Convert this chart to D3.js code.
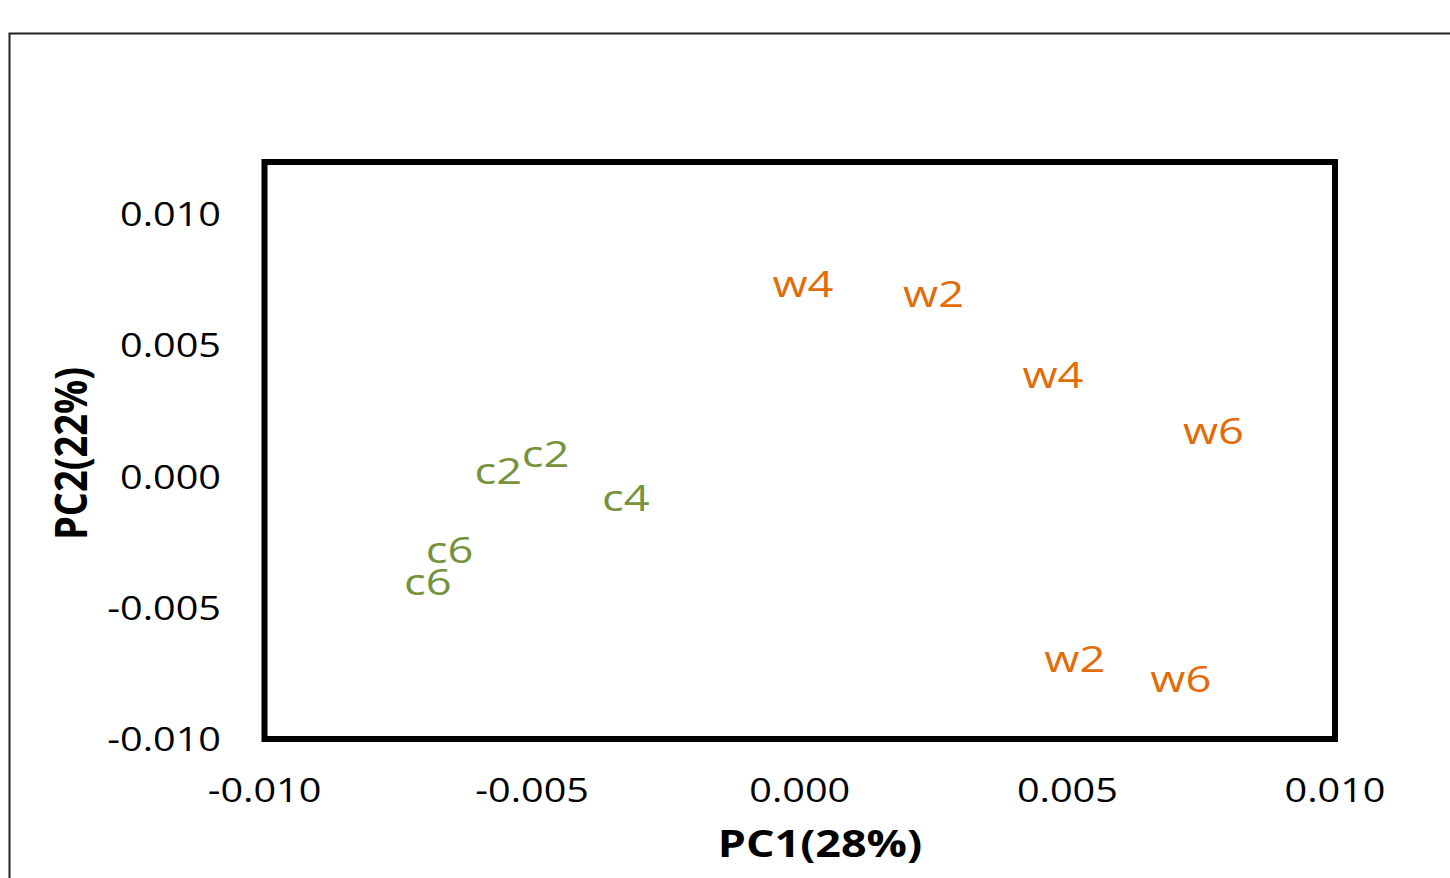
<!DOCTYPE html>
<html>
<head>
<meta charset="utf-8">
<script src="https://cdn.jsdelivr.net/npm/d3@7"></script>
<style>
  html, body { margin: 0; padding: 0; background: #fff; }
  svg { display: block; }
  text { font-family: "Open Sans", sans-serif; }
</style>
</head>
<body>
<svg id="chart" width="1450" height="878"></svg>
<script>
// ---- data ----
const labels = ["w4", "w2", "w4", "w6", "c2", "c2", "c4", "c6", "c6", "w2", "w6"];
const groups = ["w", "w", "w", "w", "c", "c", "c", "c", "c", "w", "w"];
const pc1 = [0.00006, 0.0025, 0.00473, 0.00773, -0.00563, -0.00475, -0.00325, -0.00654, -0.00695, 0.00514, 0.00712];
const pc2 = [0.00734, 0.00697, 0.00388, 0.00174, 0.0002, 0.00087, -0.00081, -0.0028, -0.00402, -0.00695, -0.00772];
const xTicks = [-0.010, -0.005, 0.000, 0.005, 0.010];
const yTicks = [-0.010, -0.005, 0.000, 0.005, 0.010];
const xTitle = "PC1(28%)";
const yTitle = "PC2(22%)";
const groupColors = { w: "#E36C0A", c: "#76923C" };

// ---- layout ----
const svg = d3.select("#chart");
const pL = 264.5, pR = 1335, pT = 162, pB = 739;
const sxTick = 1.2, sxLab = 1.26, sxTitle = 1.18;

const x = d3.scaleLinear().domain([-0.010, 0.010]).range([pL, pR]);
const y = d3.scaleLinear().domain([-0.010, 0.012]).range([pB, pT]);
const fmt = d => d3.format(".3f")(d).replace("\u2212", "-");

// outer chart border
svg.append("rect")
  .attr("x", 9.5).attr("y", 33.5)
  .attr("width", 1460).attr("height", 900)
  .attr("fill", "none").attr("stroke", "#222").attr("stroke-width", 2);

function stretchedText(px, py, str, anchor, s) {
  return svg.append("text")
    .attr("transform", `translate(${px},${py}) scale(${s},1)`)
    .attr("text-anchor", anchor)
    .text(str);
}

// axes via d3 (no tick lines/domains visible)
const xAxis = svg.append("g").attr("transform", `translate(0,${pB})`)
  .call(d3.axisBottom(x).tickValues(xTicks).tickFormat(fmt).tickSize(0));
xAxis.select(".domain").remove();
xAxis.selectAll(".tick text").remove();
xAxis.selectAll(".tick").each(function(d) {
  stretchedText(x(d), 802, fmt(d), "middle", sxTick)
    .attr("font-size", 33).attr("fill", "#000");
});

const yAxis = svg.append("g").attr("transform", `translate(${pL},0)`)
  .call(d3.axisLeft(y).tickValues(yTicks).tickFormat(fmt).tickSize(0));
yAxis.select(".domain").remove();
yAxis.selectAll(".tick text").remove();
yAxis.selectAll(".tick").each(function(d) {
  stretchedText(221, y(d) + 11.8, fmt(d), "end", sxTick)
    .attr("font-size", 33).attr("fill", "#000");
});

// plot frame
svg.append("rect")
  .attr("x", pL).attr("y", pT)
  .attr("width", pR - pL).attr("height", pB - pT)
  .attr("fill", "none").attr("stroke", "#000").attr("stroke-width", 6);

// data labels as marks
labels.forEach((lab, i) => {
  stretchedText(x(pc1[i]), y(pc2[i]) + 12.8, lab, "middle", sxLab)
    .attr("font-size", 36)
    .attr("fill", groupColors[groups[i]]);
});

// axis titles
stretchedText(820, 857, xTitle, "middle", sxTitle)
  .attr("font-size", 38).attr("font-weight", 700).attr("fill", "#000");

svg.append("text")
  .attr("transform", `translate(87,${(pT + pB) / 2 + 3}) rotate(-90) scale(1,${sxTitle})`)
  .attr("text-anchor", "middle")
  .attr("font-size", 38).attr("font-weight", 700).attr("fill", "#000")
  .text(yTitle);
</script>
</body>
</html>
